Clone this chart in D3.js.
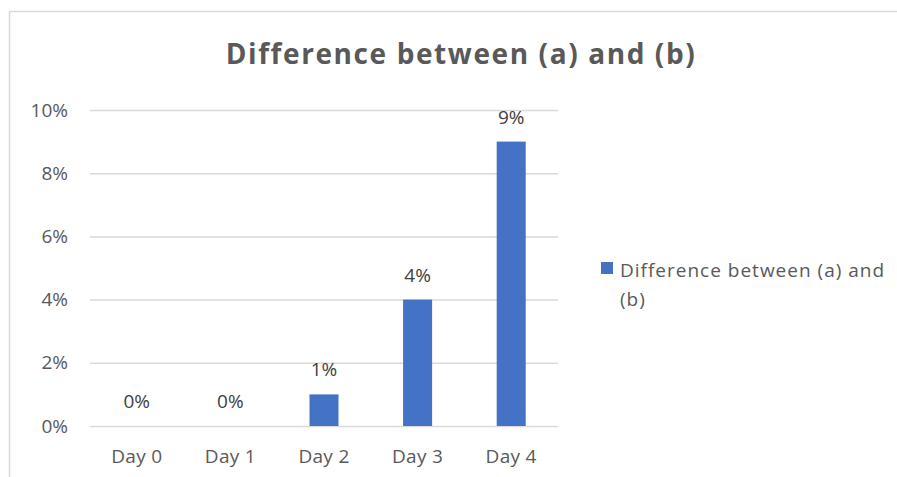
<!DOCTYPE html>
<html><head><meta charset="utf-8">
<script src="https://cdn.jsdelivr.net/npm/d3@7"></script>
<style>body{margin:0;background:#fff}svg{display:block}text{font-family:"Open Sans",sans-serif}</style>
</head><body>
<svg id="c" width="897" height="477"></svg>
<script>
const categories = ["Day 0","Day 1","Day 2","Day 3","Day 4"];
const values = [0, 0, 0.01, 0.04, 0.09];
const yTicks = [0, 0.02, 0.04, 0.06, 0.08, 0.10];
const seriesName = "Difference between (a) and (b)";
const title = "Difference between (a) and (b)";
const F = "Open Sans";

const svg = d3.select("#c");
svg.append("rect").attr("x",9.5).attr("y",11.5).attr("width",900).attr("height",480)
  .attr("fill","#fff").attr("stroke","#d9d9d9").attr("stroke-width",1.5);

const m = {left:90, right:558, top:110, bottom:426};
const x = d3.scaleBand().domain(categories).range([m.left, m.right]).paddingInner(0.69).paddingOuter(0.345);
const y = d3.scaleLinear().domain([0,0.10]).range([m.bottom, m.top]);
const fmt = d3.format(".0%");

svg.append("text").attr("x",461).attr("y",64).attr("text-anchor","middle")
  .attr("font-size",28).attr("font-weight","bold").attr("fill","#595959")
  .attr("letter-spacing","1.6px").text(title);

const yAxis = d3.axisLeft(y).tickValues(yTicks).tickFormat(fmt).tickSize(-(m.right-m.left)).tickPadding(22);
const ga = svg.append("g").attr("transform",`translate(${m.left},0)`).call(yAxis);
ga.select(".domain").remove();
ga.selectAll(".tick line").attr("stroke","#d9d9d9").attr("stroke-width",1.5);
ga.selectAll(".tick text").attr("font-size",19).attr("fill","#595959").attr("font-family",F);

const xAxis = d3.axisBottom(x).tickSize(0).tickPadding(24);
const gx = svg.append("g").attr("transform",`translate(0,${m.bottom})`).call(xAxis);
gx.select(".domain").remove();
gx.selectAll(".tick text").attr("font-size",19).attr("fill","#595959").attr("font-family",F).attr("letter-spacing","0.3px");

svg.append("g").selectAll("rect").data(values).join("rect")
  .attr("x",(d,i)=>x(categories[i])).attr("width",x.bandwidth())
  .attr("y",d=>y(d)).attr("height",d=>y(0)-y(d)).attr("fill","#4472c4");

svg.append("g").selectAll("text").data(values).join("text")
  .attr("x",(d,i)=>x(categories[i])+x.bandwidth()/2).attr("y",d=>y(d)-18)
  .attr("text-anchor","middle").attr("font-size",19).attr("fill","#404040").text(d=>fmt(d));

const lg = svg.append("g");
lg.append("rect").attr("x",601).attr("y",262).attr("width",12).attr("height",12).attr("fill","#4472c4");
const lt = lg.append("text").attr("x",620).attr("y",277).attr("font-size",19).attr("fill","#595959").attr("letter-spacing","1px");
lt.append("tspan").attr("x",620).text("Difference between (a) and");
lt.append("tspan").attr("x",620).attr("dy",29).text("(b)");
</script>
</body></html>
